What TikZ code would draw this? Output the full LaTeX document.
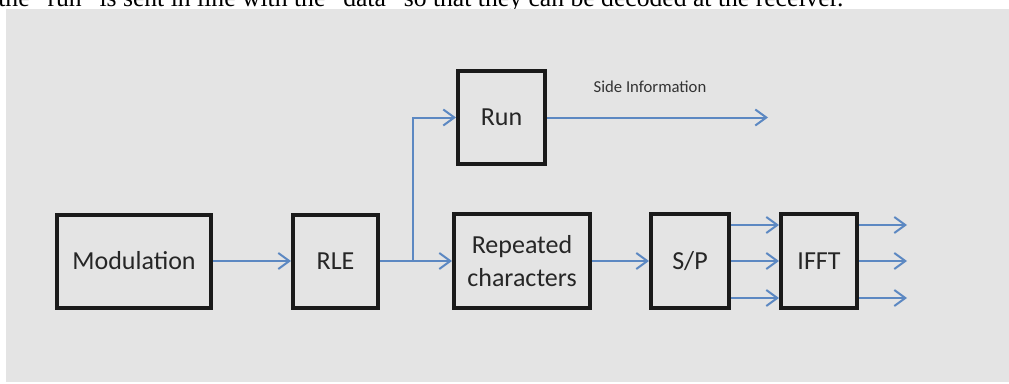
\documentclass[tikz,border=0pt]{standalone}
\usepackage{fontspec}
\setmainfont{Carlito}
\newfontfamily\serifline{Liberation Serif}
\usepackage{tikz}
\usetikzlibrary{arrows.meta}

\definecolor{sigblue}{RGB}{92,136,194}
\definecolor{panelgray}{RGB}{228,228,228}
\definecolor{boxline}{RGB}{26,26,26}

\begin{document}
\begin{tikzpicture}[x=0.2mm, y=-0.2mm, >={Straight Barb[length=2.2mm,width=3.2mm]},
  blk/.style={draw=boxline, line width=0.8mm, text=black!85, align=center,
    inner sep=0pt, font=\fontsize{14.8}{18.5}\selectfont},
  sig/.style={->, draw=sigblue, line width=0.4mm},
  lbl/.style={text=black!80, inner sep=0pt, font=\fontsize{9.5}{11}\selectfont}]
  \useasboundingbox (0,0) rectangle (1009,383);
  \clip (0,0) rectangle (1009,383);

  % --- 本文の行と背景 ---
  \node[anchor=base west, inner sep=0pt, font=\serifline\fontsize{14.6}{17}\selectfont]
    (textline) at (-2,6) {the “run” is sent in line with the “data” so that they can be decoded at the receiver.};
  \fill[panelgray] (6,9) rectangle (1009,382);

  % --- ブロック ---
  \node[blk, minimum width=30.8mm, minimum height=18.6mm] (mod)  at (134,261)   {Modulation};
  \node[blk, minimum width=17mm,   minimum height=18.6mm] (rle)  at (335.5,261) {RLE};
  \node[blk, minimum width=17.4mm, minimum height=18.6mm] (run)  at (501.5,117.5) {Run};
  \node[blk, minimum width=27.2mm, minimum height=18.8mm] (rep)  at (522,261)   {Repeated\\characters};
  \node[blk, minimum width=15.6mm, minimum height=18.8mm] (sp)   at (690,261)   {S/P};
  \node[blk, minimum width=15.2mm, minimum height=18.8mm] (ifft) at (819,261)   {IFFT};

  % --- 信号の流れ ---
  \coordinate (split) at (413,261);
  \coordinate (side)  at (768,117.5);
  \draw[sig] (mod) -- (rle);
  \draw[sig] (rle) -- (rep);
  \draw[sig] (split) |- (run.west);
  \draw[sig] (run) -- (side);
  \node[lbl] (sideinfo) at (650,87) {Side Information};
  \draw[sig] (rep) -- (sp);

  % --- S/P から IFFT、出力 ---
  \foreach \yy [count=\i] in {225,261,298} {
    \coordinate (row\i) at (0,\yy);
    \coordinate (out\i) at (907,\yy);
    \draw[sig] (sp.east |- row\i) -- (ifft.west |- row\i);
    \draw[sig] (ifft.east |- row\i) -- (out\i);
  }
\end{tikzpicture}
\end{document}
